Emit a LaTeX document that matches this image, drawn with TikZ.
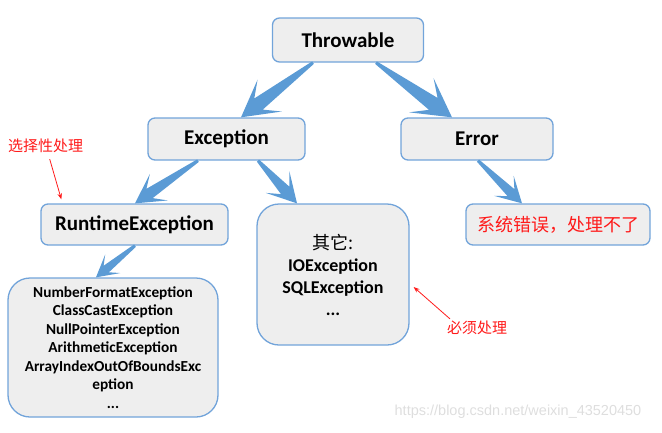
\documentclass[tikz,border=0pt]{standalone}
\usepackage{fontspec}
\setmainfont{Carlito}
\newfontfamily\cjk{Noto Sans CJK SC}
\newfontfamily\wmfont{Liberation Sans}
\usetikzlibrary{calc,arrows.meta}
\definecolor{boxfill}{HTML}{EEEEEE}
\definecolor{boxline}{HTML}{72A4DA}
\definecolor{arrowblue}{HTML}{5B9BD5}
\definecolor{notered}{HTML}{FF1A1A}
\tikzset{
  box/.style={draw=boxline, line width=1.3pt, fill=boxfill, rounded corners=7pt,
    inner sep=0pt, align=center, font=\bfseries\fontsize{21}{25}\selectfont},
  bigbox/.style={box, rounded corners=22pt},
  note/.style={text=notered, font=\cjk\fontsize{15}{18}\selectfont, inner sep=0pt},
  notearrow/.style={draw=notered, line width=0.8pt, -{Stealth[length=6pt,width=4.5pt]}},
}
\newcommand{\blockarr}[3]{%
  \pgfmathsetmacro\bwl{36*#3}\pgfmathsetmacro\bwh{20*#3}%
  \pgfmathsetmacro\bnl{22*#3}\pgfmathsetmacro\bnh{7*#3}%
  \coordinate (bn) at ($(#2)!\bnl pt!(#1)$);
  \coordinate (bw) at ($(#2)!\bwl pt!(#1)$);
  \fill[arrowblue] ($(#1)!1.5pt!90:(#2)$) -- ($(bn)!\bnh pt!90:(#2)$) --
    ($(bw)!\bwh pt!90:(#2)$) -- (#2) -- ($(bw)!\bwh pt!-90:(#2)$) --
    ($(bn)!\bnh pt!-90:(#2)$) -- ($(#1)!1.5pt!-90:(#2)$) -- cycle;
}
\begin{document}
\begin{tikzpicture}[x=1pt,y=-1pt]
\useasboundingbox (0,0) rectangle (662,432);
% boxes
\node[box, minimum width=151pt, minimum height=44pt] (throw) at (348,40) {Throwable};
\node[box, minimum width=157pt, minimum height=42pt] (exc) at (226.5,139) {Exception};
\node[box, minimum width=152pt, minimum height=42pt] (err) at (477,139) {Error};
\node[box, minimum width=187pt, minimum height=41pt] (rt) at (134.5,224.5) {RuntimeException};
\node[box, minimum width=184pt, minimum height=41pt, text=notered,
  font=\cjk\fontsize{18}{22}\selectfont] (sys) at (558,224.5) {系统错误，处理不了};
\node[bigbox, minimum width=152pt, minimum height=141pt,
  font=\bfseries\fontsize{18}{22}\selectfont] (other) at (333,274.5)
  {{\cjk\mdseries 其它:}\\IOException\\SQLException\\...};
\node[bigbox, minimum width=210pt, minimum height=139pt,
  font=\bfseries\fontsize{15.3}{18.5}\selectfont] (num) at (113,347.5)
  {NumberFormatException\\ClassCastException\\NullPointerException\\ArithmeticException\\ArrayIndexOutOfBoundsExc\\eption\\...};
% block arrows
\coordinate (a1s) at ($(throw.south)+(-35,0)$);
\coordinate (a1t) at ($(exc.north)+(14.5,0)$);
\coordinate (a2s) at ($(throw.south)+(28,0)$);
\coordinate (a2t) at ($(err.north)+(-25,0)$);
\coordinate (a3s) at ($(exc.south)+(-28.5,0)$);
\coordinate (a3t) at ($(rt.north)+(0.5,0)$);
\coordinate (a4s) at ($(exc.south)+(31.5,0)$);
\coordinate (a4t) at ($(other.north)+(-36,0)$);
\coordinate (a5s) at ($(rt.south)+(0.5,0)$);
\coordinate (a5t) at ($(num.north)+(-17,0)$);
\coordinate (a6s) at ($(err.south)+(1,0)$);
\coordinate (a6t) at ($(sys.north)+(-36,0)$);
\blockarr{a1s}{a1t}{1}
\blockarr{a2s}{a2t}{1.05}
\blockarr{a3s}{a3t}{0.8}
\blockarr{a4s}{a4t}{0.8}
\blockarr{a5s}{a5t}{0.6}
\blockarr{a6s}{a6t}{0.7}
% notes
\node[note, anchor=west] (sel) at (8,146) {选择性处理};
\coordinate (selA) at ($(sel.south)+(4,6)$);
\coordinate (selB) at ($(rt.north west)+(21,-4)$);
\draw[notearrow] (selA) -- (selB);
\node[note, anchor=west] (must) at (447,328) {必须处理};
\coordinate (mustA) at ($(must.north west)+(3,-2)$);
\coordinate (mustB) at ($(other.east)+(4,12.5)$);
\draw[notearrow] (mustA) -- (mustB);
% watermark
\node[text=black!13, font=\wmfont\fontsize{14.5}{17}\selectfont, inner sep=0pt] (wm) at (518,412) {https://blog.csdn.net/weixin\_43520450};
\end{tikzpicture}
\end{document}
